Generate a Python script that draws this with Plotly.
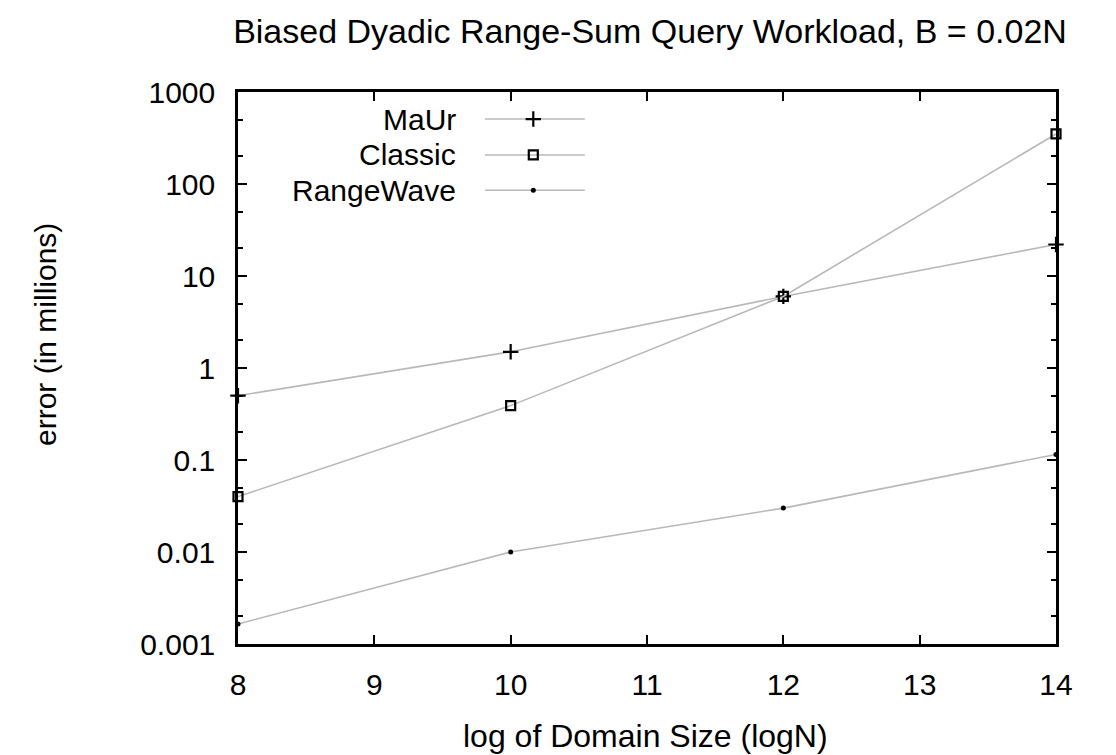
import plotly.graph_objects as go

log_n = [8, 10, 12, 14]
maur = [0.5, 1.5, 6.0, 22.0]
classic = [0.04, 0.39, 6.0, 350.0]
rangewave = [0.00165, 0.01, 0.03, 0.115]
series_names = ["MaUr", "Classic", "RangeWave"]
x_ticks = [8, 9, 10, 11, 12, 13, 14]
y_ticks = [0.001, 0.01, 0.1, 1, 10, 100, 1000]
y_tick_text = ["0.001", "0.01", "0.1", "1", "10", "100", "1000"]

FONT = "Liberation Sans, Arial, sans-serif"
LINE_COLOR = "#b8b8b8"

styles = [
    dict(symbol="cross-thin", size=11, line=dict(width=2.2, color="black"), color="black"),
    dict(symbol="square-open", size=9, line=dict(width=2.2, color="black"), color="black"),
    dict(symbol="circle", size=5, line=dict(width=0, color="black"), color="black"),
]
data_series = [maur, classic, rangewave]

fig = go.Figure()
for name, vals, st in zip(series_names, data_series, styles):
    fig.add_trace(go.Scatter(
        x=log_n, y=vals, mode="lines+markers", name=name,
        line=dict(color=LINE_COLOR, width=1.6),
        marker=st, showlegend=False, cliponaxis=False,
    ))

# custom legend (text on the left, sample on the right, like gnuplot)
leg_x_text = 0.269
leg_x0, leg_x1, leg_xm = 0.302, 0.424, 0.361
leg_ys = [0.951, 0.886, 0.822]
for name, st, ly in zip(series_names, styles, leg_ys):
    fig.add_annotation(x=leg_x_text, y=ly, xref="paper", yref="paper",
                       text=name, showarrow=False, xanchor="right", yanchor="middle",
                       font=dict(family=FONT, size=30, color="black"))
    fig.add_trace(go.Scatter(
        x=[leg_x0, leg_xm, leg_x1], y=[ly, ly, ly], xaxis="x2", yaxis="y2",
        mode="lines", line=dict(color=LINE_COLOR, width=1.6),
        showlegend=False, hoverinfo="skip"))
    fig.add_trace(go.Scatter(
        x=[leg_xm], y=[ly], xaxis="x2", yaxis="y2",
        mode="markers", marker=st, showlegend=False, hoverinfo="skip"))

axis_common = dict(
    showline=True, linecolor="black", linewidth=2.5, mirror="ticks",
    ticks="inside", ticklen=9, tickwidth=2, tickcolor="black",
    showgrid=False, zeroline=False,
    tickfont=dict(family=FONT, size=30, color="black"),
)

fig.update_layout(
    width=1116, height=755,
    margin=dict(l=238, r=60, t=92, b=111),
    paper_bgcolor="white", plot_bgcolor="white",
    title=dict(text="Biased Dyadic Range-Sum Query Workload, B = 0.02N",
               x=650 / 1116, xanchor="center", y=1 - 31 / 755, yanchor="middle",
               font=dict(family=FONT, size=34, color="black")),
    xaxis=dict(range=[8, 14], tickvals=x_ticks, ticklabelstandoff=12, **axis_common),
    yaxis=dict(type="log", range=[-3, 3], tickvals=y_ticks, ticktext=y_tick_text,
               ticklabelstandoff=14,
               minor=dict(ticks="inside", ticklen=5, tickwidth=2, tickcolor="black",
                          showgrid=False),
               **axis_common),
    xaxis2=dict(overlaying="x", range=[0, 1], visible=False),
    yaxis2=dict(overlaying="y", range=[0, 1], visible=False),
    showlegend=False,
)

fig.add_annotation(x=(645 - 238) / 818, y=(644 - 736) / 552, xref="paper", yref="paper",
                   text="log of Domain Size (logN)", showarrow=False,
                   xanchor="center", yanchor="middle",
                   font=dict(family=FONT, size=32, color="black"))
fig.add_annotation(x=(45 - 238) / 818, y=(644 - 335) / 552, xref="paper", yref="paper",
                   text="error (in millions)", showarrow=False, textangle=-90,
                   xanchor="center", yanchor="middle",
                   font=dict(family=FONT, size=30, color="black"))

fig.write_html("out.html")
